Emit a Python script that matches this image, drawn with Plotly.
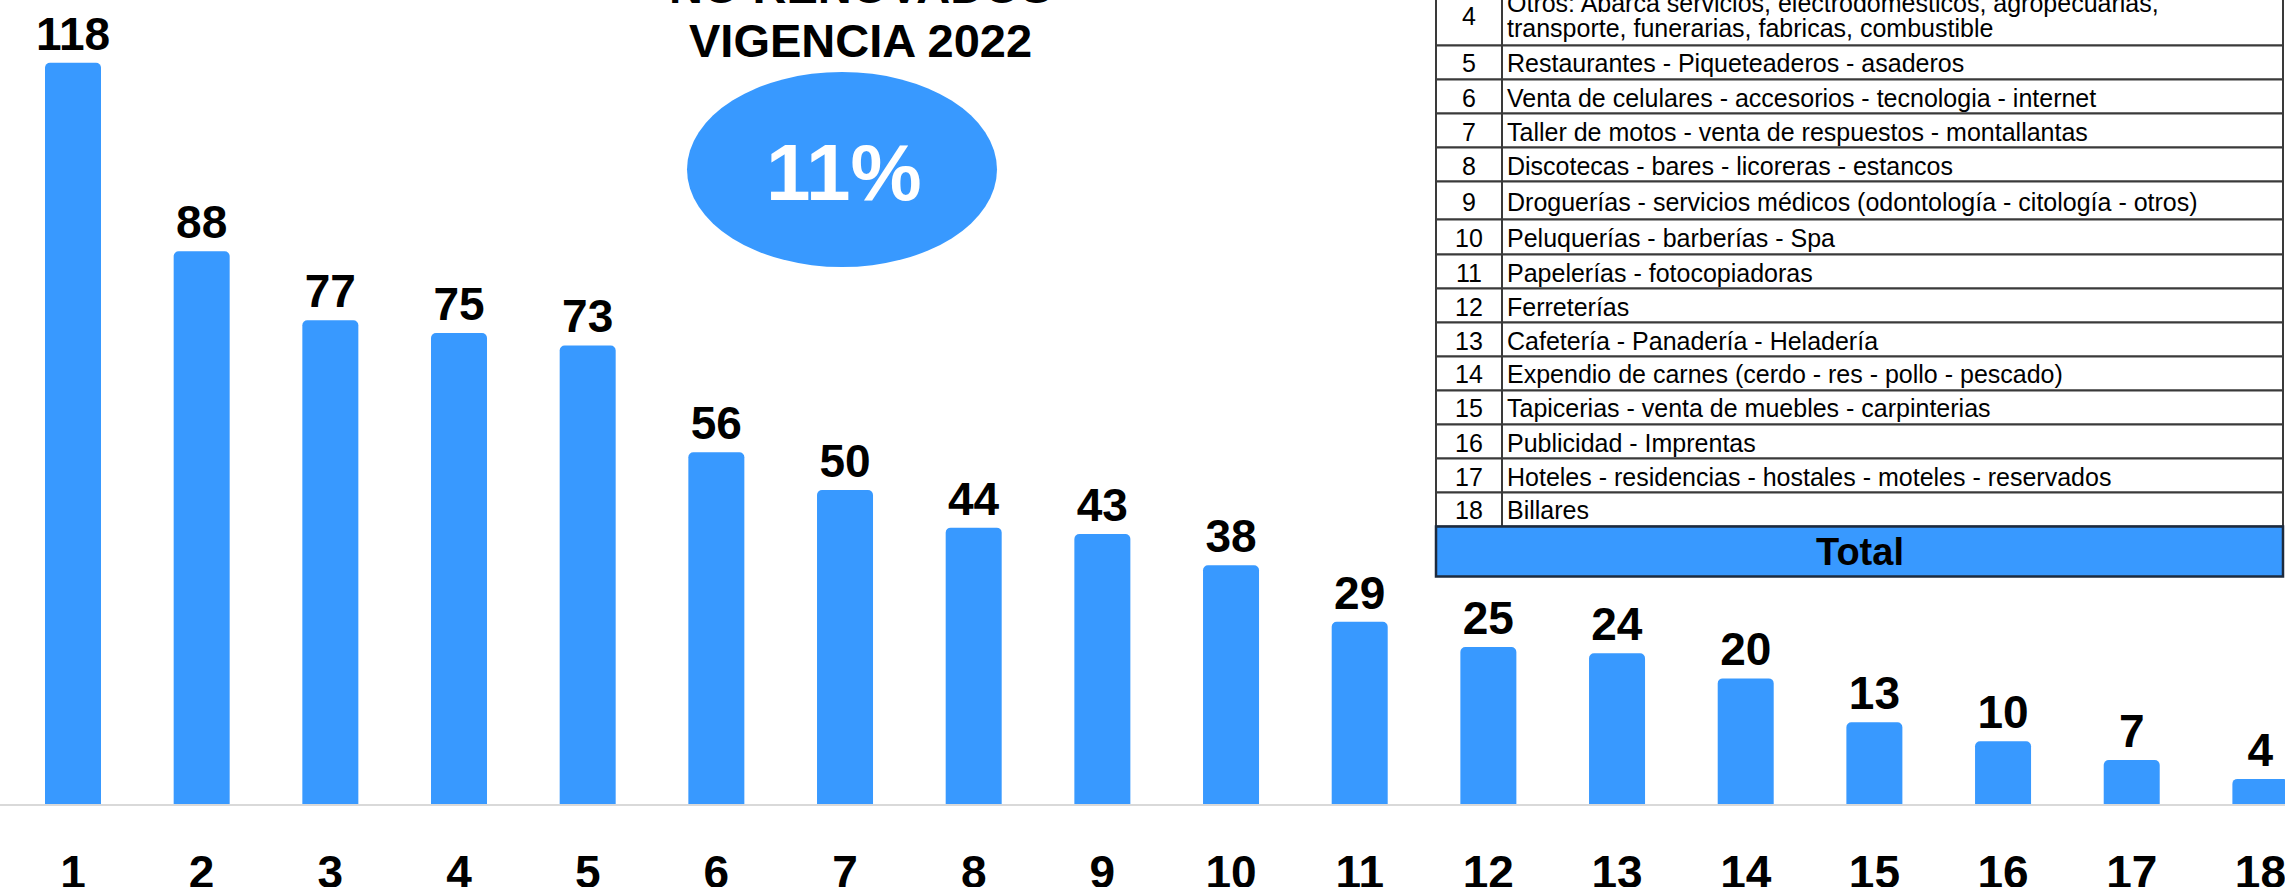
import plotly.graph_objects as go

# ---------------- data ----------------
categories = ["1", "2", "3", "4", "5", "6", "7", "8", "9", "10",
              "11", "12", "13", "14", "15", "16", "17", "18"]
values = [118, 88, 77, 75, 73, 56, 50, 44, 43, 38, 29, 25, 24, 20, 13, 10, 7, 4]

title_lines = ["NO RENOVADOS", "VIGENCIA 2022"]
percent_label = "11%"

table_nums = ["4", "5", "6", "7", "8", "9", "10", "11", "12", "13",
              "14", "15", "16", "17", "18"]
table_desc = [
    "Otros: Abarca servicios, electrodomesticos, agropecuarias,<br>transporte, funerarias, fabricas, combustible",
    "Restaurantes - Piqueteaderos - asaderos",
    "Venta de celulares - accesorios - tecnologia - internet",
    "Taller de motos - venta de respuestos - montallantas",
    "Discotecas - bares - licoreras - estancos",
    "Droguerías - servicios médicos (odontología - citología - otros)",
    "Peluquerías - barberías - Spa",
    "Papelerías - fotocopiadoras",
    "Ferreterías",
    "Cafetería - Panadería - Heladería",
    "Expendio de carnes (cerdo - res - pollo - pescado)",
    "Tapicerias - venta de muebles - carpinterias",
    "Publicidad - Imprentas",
    "Hoteles - residencias - hostales - moteles - reservados",
    "Billares",
]
total_label = "Total"

# ---------------- style ----------------
W, H = 2285, 887
PLOT_BOTTOM = 804          # pixel row of the value axis zero line
BLUE = "#3899FF"
FONT = "Arial, Liberation Sans, sans-serif"

def px(x):
    return x / W

def py(y):
    return (PLOT_BOTTOM - y) / PLOT_BOTTOM

fig = go.Figure()
fig.add_trace(go.Bar(
    x=categories, y=values,
    marker=dict(color=BLUE, line=dict(width=0), cornerradius=5),
    texttemplate="%{y}", textposition="outside",
    textfont=dict(size=46, color="black", family=FONT, weight="bold"),
    constraintext="none", cliponaxis=False,
    hoverinfo="skip",
))

shapes = []
annotations = []

# title + percentage bubble
annotations.append(dict(x=px(860), y=py(-13), xref="paper", yref="paper",
                        text=title_lines[0], showarrow=False, xanchor="center", yanchor="middle",
                        font=dict(size=47, color="black", family=FONT, weight="bold")))
annotations.append(dict(x=px(860), y=py(40), xref="paper", yref="paper",
                        text=title_lines[1], showarrow=False, xanchor="center", yanchor="middle",
                        font=dict(size=47, color="black", family=FONT, weight="bold")))
shapes.append(dict(type="circle", xref="paper", yref="paper",
                   x0=px(687), x1=px(997), y0=py(267), y1=py(72),
                   fillcolor=BLUE, line=dict(width=0), layer="below"))
annotations.append(dict(x=px(844), y=py(172), xref="paper", yref="paper",
                        text=percent_label, showarrow=False, xanchor="center", yanchor="middle",
                        font=dict(size=80, color="white", family=FONT, weight="bold")))

# reference table
T_LEFT, T_DIV, T_RIGHT = 1436, 1502, 2283
row_heights = [62, 34, 34, 34, 34, 38, 35, 34, 34, 34, 34, 34, 34, 34, 34]
TOTAL_H = 50
top = -16.5
LINE = dict(color="#3a3a3a", width=2)
TFONT = dict(size=25, color="black", family=FONT)
for num, desc, h in zip(table_nums, table_desc, row_heights):
    y0, y1 = top, top + h
    shapes.append(dict(type="rect", xref="paper", yref="paper",
                       x0=px(T_LEFT), x1=px(T_RIGHT), y0=py(y1), y1=py(y0),
                       line=LINE, fillcolor="white", layer="above"))
    shapes.append(dict(type="line", xref="paper", yref="paper",
                       x0=px(T_DIV), x1=px(T_DIV), y0=py(y1), y1=py(y0), line=LINE))
    mid = (y0 + y1) / 2 + 1
    annotations.append(dict(x=px((T_LEFT + T_DIV) / 2), y=py(mid), xref="paper", yref="paper",
                            text=num, showarrow=False, xanchor="center", yanchor="middle", font=TFONT))
    lines = desc.split("<br>")
    n = len(lines)
    spacing = 25.5
    for k, ln in enumerate(lines):
        yy = mid + (k - (n - 1) / 2) * spacing
        annotations.append(dict(x=px(T_DIV + 3), y=py(yy), xref="paper", yref="paper",
                                text=ln, showarrow=False, xanchor="left", yanchor="middle", font=TFONT))
    top = y1

shapes.append(dict(type="rect", xref="paper", yref="paper",
                   x0=px(T_LEFT), x1=px(T_RIGHT), y0=py(top + TOTAL_H), y1=py(top),
                   line=dict(color="#1c2b3f", width=2.5), fillcolor=BLUE, layer="above"))
annotations.append(dict(x=px((T_LEFT + T_RIGHT) / 2), y=py(top + TOTAL_H / 2), xref="paper", yref="paper",
                        text=total_label, showarrow=False, xanchor="center", yanchor="middle",
                        font=dict(size=38, color="black", family=FONT, weight="bold")))

fig.update_layout(
    width=W, height=H,
    margin=dict(l=0, r=0, t=0, b=H - PLOT_BOTTOM, pad=0, autoexpand=False),
    paper_bgcolor="white", plot_bgcolor="white",
    showlegend=False,
    bargap=1 - 56 / 128.67,
    shapes=shapes, annotations=annotations,
    xaxis=dict(type="category", range=[-73 / 128.67, -73 / 128.67 + W / 128.67],
               automargin=False,
               showgrid=False, zeroline=False, showline=True, linecolor="#d9d9d9", linewidth=2,
               ticks="", ticklabelstandoff=27,
               tickfont=dict(size=46, color="black", family=FONT, weight="bold"),
               fixedrange=True),
    yaxis=dict(range=[0, PLOT_BOTTOM / 6.281], visible=False, showgrid=False, zeroline=False,
               automargin=False, fixedrange=True),
)

page_fix = ("document.body.style.margin='0';"
            "document.body.style.overflow='hidden';"
            "document.documentElement.style.overflow='hidden';")
fig.write_html("out.html", post_script=page_fix, config={"displayModeBar": False})
